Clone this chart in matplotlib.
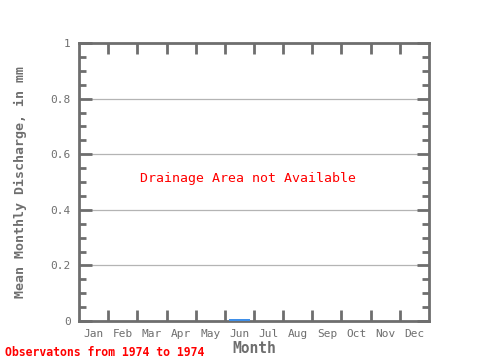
import matplotlib
matplotlib.use("Agg")
import matplotlib.pyplot as plt
import numpy as np
from matplotlib.ticker import MultipleLocator, FixedLocator

months = ["Jan", "Feb", "Mar", "Apr", "May", "Jun", "Jul", "Aug", "Sep", "Oct", "Nov", "Dec"]
discharge = [0, 0, 0, 0, 0, 0.008, 0, 0, 0, 0, 0, 0]
y_ticks = [0, 0.2, 0.4, 0.6, 0.8, 1.0]
y_labels = ["0", "0.2", "0.4", "0.6", "0.8", "1"]

grey = "#6e6e6e"
plt.rcParams["font.family"] = ["DejaVu Sans Mono"]

fig = plt.figure(figsize=(4.8, 3.6), dpi=100)
ax = fig.add_axes([79 / 480, 39 / 360, 350 / 480, 278 / 360])

x = np.arange(len(months)) + 0.5
ax.bar(x, discharge, width=0.72, color="#3f8fe8", zorder=3)

ax.set_xlim(0, 12)
ax.set_ylim(0, 1)

for v in y_ticks[1:-1]:
    ax.axhline(v, color="#b4b4b4", linewidth=0.9, zorder=1)

ax.xaxis.set_major_locator(FixedLocator(x))
ax.set_xticklabels(months, fontsize=8, color=grey)
ax.xaxis.set_minor_locator(FixedLocator(np.arange(1, 12)))
ax.tick_params(axis="x", which="major", length=0, pad=6)
ax.tick_params(axis="x", which="minor", direction="in", length=8, width=2,
               color=grey, top=True, bottom=True)

ax.yaxis.set_major_locator(FixedLocator(y_ticks))
ax.set_yticklabels(y_labels, fontsize=8, color=grey)
ax.yaxis.set_minor_locator(MultipleLocator(0.05))
ax.tick_params(axis="y", which="major", direction="in", length=9, width=2,
               color=grey, left=True, right=True, pad=6)
ax.tick_params(axis="y", which="minor", direction="in", length=5, width=2,
               color=grey, left=True, right=True)

for s in ax.spines.values():
    s.set_color(grey)
    s.set_linewidth(2)

ax.set_ylabel("Mean Monthly Discharge, in mm", fontsize=9.5, color=grey,
              fontweight="bold", labelpad=17)
ax.set_xlabel("Month", fontsize=10.5, color=grey, fontweight="bold", labelpad=1)

ax.text(0.483, 0.514, "Drainage Area not Available", transform=ax.transAxes,
        ha="center", va="center", fontsize=9.5, color="red")
fig.text(5 / 480, 1 - 352 / 360, "Observatons from 1974 to 1974", ha="left",
         va="center", fontsize=8.3, color="red", fontweight="bold")

fig.savefig("out.png", dpi=100)
